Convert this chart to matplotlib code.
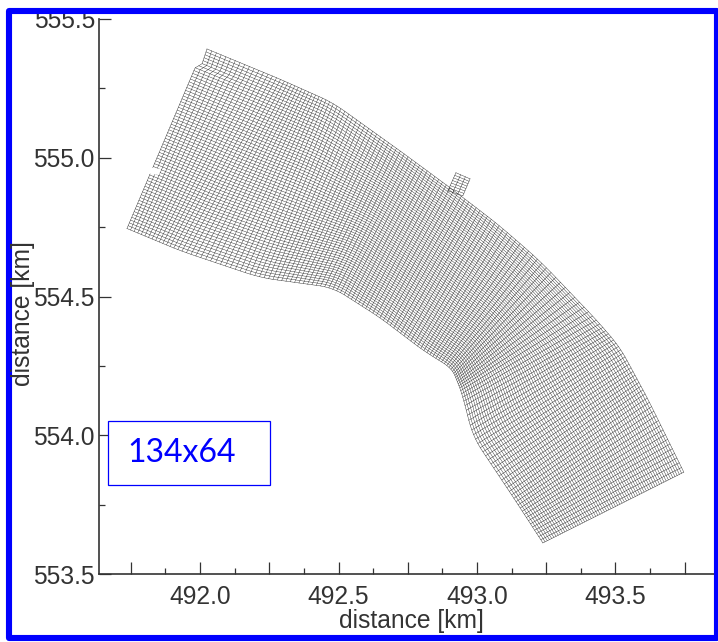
#!/usr/bin/env python3
"""Curvilinear 134x64 river grid, drawn from the two banks read off the picture."""

import matplotlib
matplotlib.use('Agg')
import matplotlib.pyplot as plt
from matplotlib.patches import Rectangle, Polygon
import numpy as np

plt.rcParams['font.family'] = ['Liberation Sans', 'DejaVu Sans']

N_ALONG = 134
N_ACROSS = 64

# matching cross-sections on the two banks, km
NORTH_X = [492.025, 492.278, 492.480, 492.722, 492.903, 493.072, 493.227, 493.433, 493.516, 493.614, 493.747]
NORTH_Y = [555.392, 555.288, 555.198, 555.025, 554.892, 554.763, 554.629, 554.414, 554.317, 554.137, 553.867]
SOUTH_X = [491.736, 491.928, 492.217, 492.480, 492.650, 492.805, 492.910, 492.946, 492.986, 493.119, 493.238]
SOUTH_Y = [554.745, 554.665, 554.568, 554.532, 554.424, 554.306, 554.241, 554.151, 553.993, 553.795, 553.612]

# upstream boundary has a step near the north bank; fraction across the river, then km
LEFT_T = [0.0, 0.08, 0.11, 1.0]
LEFT_X = [492.025, 492.007, 491.982, 491.736]
LEFT_Y = [555.392, 555.338, 555.324, 554.745]

# small side channel on the north bank: base left, base right, tip right, tip left
NUB_X = [492.895, 492.949, 492.975, 492.924]
NUB_Y = [554.881, 554.863, 554.924, 554.946]

XTICKS_MAJOR = [491.75, 492.0, 492.25, 492.5, 492.75, 493.0, 493.25, 493.5, 493.75]
XTICK_LABELS = ['', '492.0', '', '492.5', '', '493.0', '', '493.5', '']
XTICKS_MINOR = [491.875, 492.125, 492.375, 492.625, 492.875, 493.125, 493.375, 493.625]
YTICKS_MAJOR = [553.5, 554.0, 554.5, 555.0, 555.5]
YTICK_LABELS = ['553.5', '554.0', '554.5', '555.0', '555.5']
YTICKS_MINOR = [553.75, 554.25, 554.75, 555.25]

AXIS_COLOR = '#333333'
BLUE = '#0000ff'


def smooth(v, win=7):
    # moving average with odd reflection, so the end points stay put
    k = win // 2
    padded = np.r_[2 * v[0] - v[k:0:-1], v, 2 * v[-1] - v[-2:-k - 2:-1]]
    return np.convolve(padded, np.ones(win) / win, mode='valid')


def river_mesh():
    nx, ny = np.array(NORTH_X), np.array(NORTH_Y)
    sx, sy = np.array(SOUTH_X), np.array(SOUTH_Y)
    # stations spaced by centre line length so cells stay even along the river
    cx, cy = (nx + sx) / 2, (ny + sy) / 2
    pos = np.r_[0, np.cumsum(np.hypot(np.diff(cx), np.diff(cy)))]
    s = np.linspace(0, pos[-1], N_ALONG + 1)
    t = np.linspace(0, 1, N_ACROSS + 1)[:, None]
    X = smooth(np.interp(s, pos, nx)) * (1 - t) + smooth(np.interp(s, pos, sx)) * t
    Y = smooth(np.interp(s, pos, ny)) * (1 - t) + smooth(np.interp(s, pos, sy)) * t

    # bend the first columns onto the stepped upstream boundary
    fade = np.clip(1 - np.arange(N_ALONG + 1) / 10, 0, None)
    tt = t[:, 0]
    dx = np.interp(tt, LEFT_T, LEFT_X) - X[:, 0]
    dy = np.interp(tt, LEFT_T, LEFT_Y) - Y[:, 0]
    X = X + dx[:, None] * fade
    Y = Y + dy[:, None] * fade
    return X, Y


def nub_mesh(n_wide=3, n_long=7):
    u = np.linspace(0, 1, n_wide + 1)
    v = np.linspace(0, 1, n_long + 1)[:, None]
    X = (NUB_X[0] + (NUB_X[1] - NUB_X[0]) * u) * (1 - v) + (NUB_X[3] + (NUB_X[2] - NUB_X[3]) * u) * v
    Y = (NUB_Y[0] + (NUB_Y[1] - NUB_Y[0]) * u) * (1 - v) + (NUB_Y[3] + (NUB_Y[2] - NUB_Y[3]) * u) * v
    return X, Y


def main():
    fig = plt.figure(figsize=(7.18, 6.42), dpi=100)

    ax = fig.add_axes([99 / 718, (642 - 574) / 642, (714 - 99) / 718, (574 - 19) / 642])
    ax.set_xlim(491.635, 493.856)
    ax.set_ylim(553.5, 555.5)

    for X, Y in (river_mesh(), nub_mesh()):
        ax.plot(X, Y, color='#222222', linewidth=0.3)
        ax.plot(X.T, Y.T, color='#222222', linewidth=0.3)

    ax.set_xticks(XTICKS_MAJOR)
    ax.set_xticklabels(XTICK_LABELS)
    ax.set_xticks(XTICKS_MINOR, minor=True)
    ax.set_yticks(YTICKS_MAJOR)
    ax.set_yticklabels(YTICK_LABELS)
    ax.set_yticks(YTICKS_MINOR, minor=True)
    ax.tick_params(which='major', direction='in', length=8.5, width=0.9, color=AXIS_COLOR,
                   labelsize=17.7, labelcolor=AXIS_COLOR)
    ax.tick_params(which='minor', direction='in', length=4.3, width=0.9, color=AXIS_COLOR)
    ax.tick_params(axis='x', which='major', pad=8)
    ax.tick_params(axis='y', which='major', pad=3)
    ax.spines[['top', 'right']].set_visible(False)
    ax.spines[['left', 'bottom']].set_linewidth(1.2)
    ax.spines[['left', 'bottom']].set_color(AXIS_COLOR)

    fig.text(411 / 718, 1 - 621 / 642, 'distance [km]', ha='center', va='center',
             fontsize=17.7, color=AXIS_COLOR)
    fig.text(23 / 718, 1 - 314 / 642, 'distance [km]', ha='center', va='center', rotation=90,
             fontsize=17.7, color=AXIS_COLOR)

    # overlay in picture pixels for the frame, the size box and the notch in the left edge
    over = fig.add_axes([0, 0, 1, 1])
    over.set_xlim(0, 718)
    over.set_ylim(642, 0)
    over.axis('off')
    over.patch.set_alpha(0)
    over.add_patch(Polygon([(147, 167), (161, 169), (159, 175), (145, 173)], facecolor='white', edgecolor='none'))
    over.add_patch(Rectangle((9, 11), 708, 627, facecolor='none', edgecolor=BLUE,
                             linewidth=4.4, joinstyle='round'))
    over.add_patch(Rectangle((107.5, 420.5), 162, 64, facecolor='white', edgecolor=BLUE, linewidth=0.9))
    over.text(182, 453, '134x64', ha='center', va='center', color=BLUE, fontsize=23,
              family=['Lato', 'DejaVu Sans'])

    fig.savefig('out.png', dpi=100)


if __name__ == '__main__':
    main()
